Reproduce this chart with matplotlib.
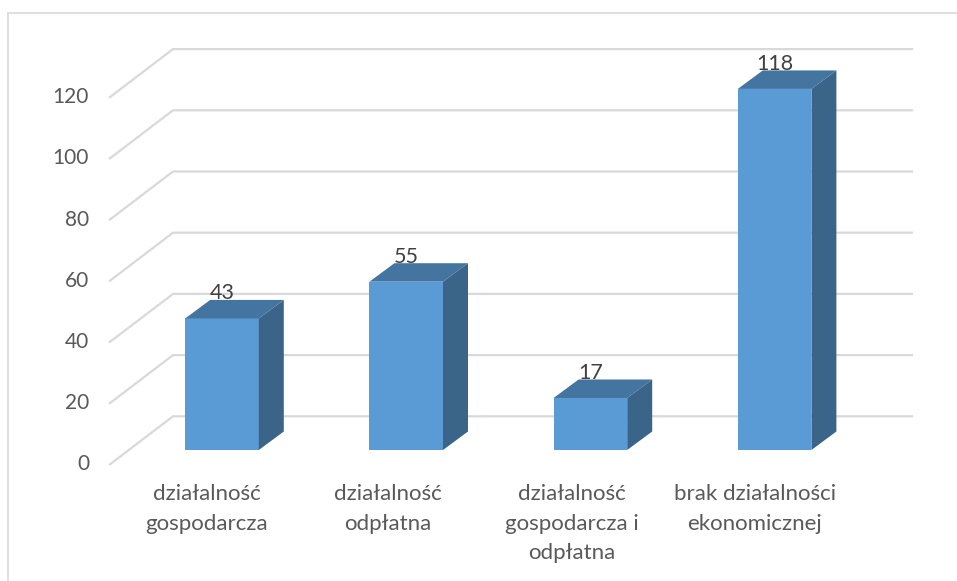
import matplotlib
matplotlib.use('Agg')
import matplotlib.pyplot as plt
from matplotlib.patches import Polygon

categories = ['działalność\ngospodarcza', 'działalność\nodpłatna', 'działalność\ngospodarcza i\nodpłatna', 'brak działalności\nekonomicznej']
values = [43, 55, 17, 118]
yticks = [0, 20, 40, 60, 80, 100, 120]

W, H = 957, 581
plt.rcParams['font.family'] = ['Lato', 'DejaVu Sans']

# pixel layout of the picture
x0, xstep = 222.0, 184.2
y0, ystep = 464.3, 3.06
dx = 1.0/xstep
dy = 1.0/ystep

fig = plt.figure(figsize=(W/100, H/100), dpi=100)
ax = fig.add_axes([0, 0, 1, 1])
ax.set_xlim((0-x0)*dx, (W-x0)*dx)
ax.set_ylim((y0-H)*dy, y0*dy)
ax.axis('off')

# chart frame (only left and top show)
ax.plot([(8-x0)*dx, (8-x0)*dx], [(y0-581)*dy, (y0-13)*dy], color='#D9D9D9', lw=1.2)
ax.plot([(8-x0)*dx, (957-x0)*dx], [(y0-13)*dy, (y0-13)*dy], color='#D9D9D9', lw=1.2)

# floor/wall grid
wall_x = 63*dx
wall_y = 48*dy
xl = (110-x0)*dx
xr = (912-x0)*dx
for t in yticks:
    ax.plot([xl, xl+wall_x, xr], [t, t+wall_y, t+wall_y], color='#D9D9D9', lw=1.6, solid_joinstyle='miter', zorder=1)
    ax.text((89-x0)*dx, t, str(t), ha='right', va='center', fontsize=15, color='#595959')

# bars
bw = 73.6*dx
base = 14.3*dy
bar_x = 25*dx
bar_y = 18.5*dy
for i, v in enumerate(values):
    ax.bar(i, v, width=bw, bottom=base, color='#5B9BD5', zorder=3)
    l, r = i-bw/2, i+bw/2
    top = base+v
    ax.add_patch(Polygon([(l, top), (r, top), (r+bar_x, top+bar_y), (l+bar_x, top+bar_y)], color='#4475A1', lw=0, zorder=3))
    ax.add_patch(Polygon([(r, base), (r+bar_x, base+bar_y), (r+bar_x, top+bar_y), (r, top)], color='#3A6589', lw=0, zorder=3))
    ax.text(i, top+25*dy, str(v), ha='center', va='center', fontsize=15.5, color='#404040', zorder=4)

# category labels sit a bit left of the bars
label_x = [207, 388, 572, 755]
for lx, c in zip(label_x, categories):
    ax.text((lx-x0)*dx, (y0-484)*dy, c, ha='center', va='top', fontsize=16, color='#595959', linespacing=1.6)

fig.savefig('out.png', dpi=100)
